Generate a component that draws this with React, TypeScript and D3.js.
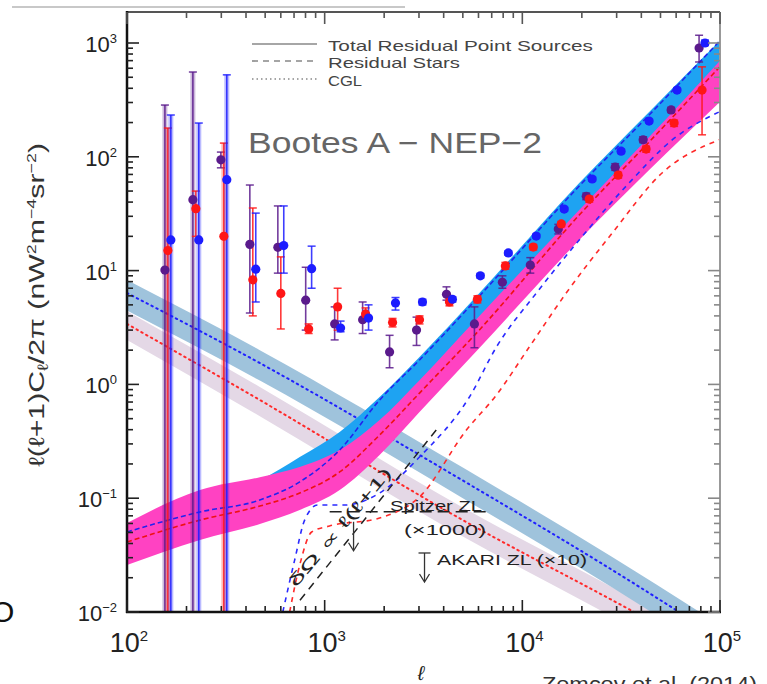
import React from "react";
import * as d3 from "d3";

// ---------- data ----------
const ELL = [161, 223, 309, 433, 600, 830, 1163, 1611, 2205, 3019, 4279, 5925, 8207, 11360, 15740, 21800, 30530, 42290, 58580, 81130];

const PURPLE = [10.1, 42, 94, 17, 16, 5.5, 3.4, 3.7, 1.93, 3.0, 6.2, 3.4, 7.9, 11.2, 23.2, 45, 81, 141, 258, 904];
const PURPLE_LO = [0.0001, 0.0001, 80, 4.24, 9.5, 3.0, 2.46, 2.8, 1.4, 2.2, 5.5, 2.1, 7.0, 9.5, 21, 42, 76, 133, 245, 681];
const PURPLE_HI = [285, 556, 110, 56.5, 37, 10.7, 4.8, 5.3, 2.7, 3.9, 7.2, 4.8, 9.0, 13, 25.5, 48, 87, 150, 272, 1170];

const RED = [15, 35, 20, 8.3, 6.3, 3.07, 4.8, 4.16, 3.5, 3.7, 5.3, 5.6, 11, 16.1, 25.7, 42.5, 69, 117, 198, 386];
const RED_LO = [0.0001, 20, 0.0001, 4.0, 3.07, 2.8, 3.0, 3.6, 3.2, 3.4, 4.9, 5.2, 10.3, 15.2, 24.3, 40, 65, 110, 185, 156];
const RED_HI = [179, 50, 132, 35.5, 13.2, 3.4, 7.0, 4.7, 3.8, 4.0, 5.7, 6.0, 11.8, 17, 27, 45, 73, 124, 210, 617];

const BLUE = [18.6, 18.6, 63, 10.3, 16.6, 10.4, 3.13, 3.83, 5.2, 5.3, 5.6, 9.0, 14.3, 20.1, 34.7, 63.8, 112, 206, 386, 1000];
const BLUE_LO = [0.0001, 0.0001, 0.0001, 5.3, 9.5, 7.0, 2.9, 3.0, 4.5, 5.0, 5.3, 8.6, 13.7, 19.3, 33.3, 61, 107, 198, 370, 950];
const BLUE_HI = [233, 198, 525, 32, 37, 16.4, 3.6, 5.0, 5.8, 5.6, 5.9, 9.4, 14.9, 20.9, 36, 66.5, 117, 214, 402, 1060];

// total residual point source model (bands and centre lines)
const MODEL_ELL = [100, 234, 470, 748, 1191, 1896, 3019, 6064, 19405, 43800, 100000];
const MAGENTA_HI = [0.0605, 0.118, 0.153, 0.188, 0.265, 0.486, 1.09, 3.99, 34.1, 149, 700];
const MAGENTA_LO = [0.0259, 0.043, 0.0593, 0.0787, 0.118, 0.24, 0.571, 2.09, 18.6, 76.6, 305];
const CYAN_HI = [0.0547, 0.1067, 0.1445, 0.23, 0.382, 0.774, 1.74, 6.35, 58.9, 248, 1050];
const CYAN_LO = [0.04, 0.07, 0.1, 0.12, 0.18, 0.34, 0.8, 2.9, 25, 105, 450];
const TOTAL_BLUE = [0.0505, 0.0757, 0.0964, 0.139, 0.265, 0.729, 1.64, 5.98, 55.4, 233, 1050];
const TOTAL_RED = [0.0412, 0.0642, 0.0853, 0.111, 0.17, 0.359, 0.839, 3.01, 30.8, 135, 620];

// residual stars
const STARS_BLUE_ELL = [614, 705, 792, 922, 1263, 1896, 3019, 5395, 7394, 11770, 19405, 34670, 57280, 100000];
const STARS_BLUE = [0.01, 0.0286, 0.0642, 0.0871, 0.0871, 0.111, 0.23, 0.774, 2.13, 6.35, 18.6, 58.9, 140.6, 250];
const STARS_RED_ELL = [665, 748, 859, 1059, 1896, 3019, 5212, 7394, 10840, 16670, 28510, 50930, 100000];
const STARS_RED = [0.01, 0.0259, 0.0505, 0.057, 0.067, 0.1026, 0.397, 0.807, 2.13, 6.35, 21.4, 72.1, 142];

// CGL
const CGL_ELL = [100, 470, 5000, 28500, 100000];
const CGL_BLUE = [6.35, 1.54, 0.143, 0.0234, 0.0059];
const CGL_BLUE_HI = [8.25, 2.0, 0.186, 0.0304, 0.0077];
const CGL_BLUE_LO = [4.45, 1.08, 0.1, 0.0164, 0.0041];
const CGL_RED = [3.4, 0.729, 0.0642, 0.0127, 0.0039];
const CGL_RED_HI = [4.4, 0.95, 0.083, 0.0165, 0.0051];
const CGL_RED_LO = [2.45, 0.525, 0.046, 0.0091, 0.0028];

// annotation lines
const ZL_DIAG_ELL = [750, 3670];
const ZL_DIAG = [0.0127, 0.398];
const SPITZER_ELL = [1060, 6600];
const SPITZER_LEVEL = 0.076;
const SPITZER_ARROW_ELL = 1400;
const AKARI_ELL = 3200;
const AKARI_LEVEL = 0.033;

const X_DECADES = [2, 3, 4, 5];
const Y_DECADES = [-2, -1, 0, 1, 2, 3];
const LEGEND = ["Total Residual Point Sources", "Residual Stars", "CGL"];

const SERIES = [
  { name: "purple", color: "#5a1a8c", v: PURPLE, lo: PURPLE_LO, hi: PURPLE_HI, dodge: 0.966 },
  { name: "red", color: "#ff1616", v: RED, lo: RED_LO, hi: RED_HI, dodge: 1.0 },
  { name: "blue", color: "#1c1cff", v: BLUE, lo: BLUE_LO, hi: BLUE_HI, dodge: 1.035 },
];

const SUP: Record<string, string> = { "-2": "−2", "-1": "−1", "0": "0", "1": "1", "2": "2", "3": "3", "4": "4", "5": "5" };

export default function App() {
  const L = 127, R = 720, B = 612;
  const x = d3.scaleLog().domain([100, 1e5]).range([L, R]);
  const y = d3.scaleLog().domain([0.01, 1000]).range([B, 43]);
  const T = 12;

  const line = (ells: number[], vals: number[]) =>
    d3.line<number>().x((_, i) => x(ells[i])).y((_, i) => y(vals[i])).curve(d3.curveMonotoneX)(vals) || "";
  const area = (ells: number[], lo: number[], hi: number[]) =>
    d3.area<number>().x((_, i) => x(ells[i])).y0((_, i) => y(lo[i])).y1((_, i) => y(hi[i])).curve(d3.curveMonotoneX)(lo) || "";

  const xTicks = x.ticks();
  const yTicks = y.ticks().filter((t) => t <= y.invert(T));
  const isMajor = (t: number) => Math.abs(Math.log10(t) - Math.round(Math.log10(t))) < 1e-6;

  const font = "'Liberation Sans', Arial, Helvetica, sans-serif";

  return (
    <svg width={767} height={684} style={{ position: "absolute", left: 0, top: 0, background: "#fff" }} fontFamily={font}>
      <defs>
        <clipPath id="plot">
          <rect x={L} y={T} width={R - L} height={B - T} />
        </clipPath>
      </defs>
      <rect x={0} y={0} width={767} height={684} fill="#fff" />
      {/* slide remnants */}
      <line x1={12} y1={7} x2={405} y2={7} stroke="#c8c8c8" strokeWidth={2} />
      <text x={-9} y={622} fontSize={30} fill="#111" fontFamily={font}>O</text>
      <text x={542} y={691} fontSize={21} fill="#333" textLength={215} lengthAdjust="spacingAndGlyphs">Zemcov et al. (2014)</text>

      <g clipPath="url(#plot)">
        {/* CGL bands */}
        <path d={area(CGL_ELL, CGL_RED_LO, CGL_RED_HI)} fill="#e4d8e6" />
        <path d={area(CGL_ELL, CGL_BLUE_LO, CGL_BLUE_HI)} fill="#9fc3dc" />
        <path d={line(CGL_ELL, CGL_BLUE)} fill="none" stroke="#2020ff" strokeWidth={2} strokeDasharray="1.5,4" strokeLinecap="round" />
        <path d={line(CGL_ELL, CGL_RED)} fill="none" stroke="#ff2a2a" strokeWidth={2} strokeDasharray="1.5,4" strokeLinecap="round" />

        {/* total residual point source bands */}
        <path d={area(MODEL_ELL, CYAN_LO, CYAN_HI)} fill="#1ea3f2" />
        <path d={area(MODEL_ELL, MAGENTA_LO, MAGENTA_HI)} fill="#ff42c2" />
        <path d={line(MODEL_ELL, TOTAL_BLUE)} fill="none" stroke="#2222ee" strokeWidth={1.6} strokeDasharray="5,3" />
        <path d={line(MODEL_ELL, TOTAL_RED)} fill="none" stroke="#ee1111" strokeWidth={1.6} strokeDasharray="5,3" />

        {/* residual stars */}
        <path d={line(STARS_BLUE_ELL, STARS_BLUE)} fill="none" stroke="#2a2aff" strokeWidth={1.6} strokeDasharray="5,5" />
        <path d={line(STARS_RED_ELL, STARS_RED)} fill="none" stroke="#ff2a2a" strokeWidth={1.6} strokeDasharray="5,5" />

        {/* ZL annotations */}
        <path d={line(ZL_DIAG_ELL, ZL_DIAG)} fill="none" stroke="#222" strokeWidth={1.5} strokeDasharray="8,6" />
        <line x1={x(SPITZER_ELL[0])} x2={x(SPITZER_ELL[1])} y1={y(SPITZER_LEVEL)} y2={y(SPITZER_LEVEL)} stroke="#222" strokeWidth={1.5} strokeDasharray="12,6" />

        {/* error bars */}
        {SERIES.map((s) =>
          s.v.map((v, i) => {
            const cx = x(ELL[i] * s.dodge);
            const yHi = y(s.hi[i]);
            const yLo = y(Math.max(s.lo[i], 1e-4));
            const big = s.lo[i] < 0.01;
            return (
              <g key={s.name + i}>
                {big && <line x1={cx} x2={cx} y1={yHi} y2={yLo} stroke={s.color} strokeOpacity={0.3} strokeWidth={5} />}
                <line x1={cx} x2={cx} y1={yHi} y2={yLo} stroke={s.color} strokeWidth={1.6} strokeOpacity={0.85} />
                <line x1={cx - 4} x2={cx + 4} y1={yHi} y2={yHi} stroke={s.color} strokeWidth={1.5} strokeOpacity={0.85} />
                {!big && <line x1={cx - 4} x2={cx + 4} y1={yLo} y2={yLo} stroke={s.color} strokeWidth={1.5} strokeOpacity={0.85} />}
              </g>
            );
          })
        )}
        {SERIES.map((s) =>
          s.v.map((v, i) => <circle key={"p" + s.name + i} cx={x(ELL[i] * s.dodge)} cy={y(v)} r={4.6} fill={s.color} />)
        )}
      </g>

      {/* annotation text */}
      <text x={390} y={511} fontSize={15} fill="#222" textLength={92} lengthAdjust="spacingAndGlyphs">Spitzer ZL</text>
      <text x={404} y={535} fontSize={15} fill="#222" textLength={82} lengthAdjust="spacingAndGlyphs">(×1000)</text>
      <text x={437} y={565} fontSize={15} fill="#222" textLength={150} lengthAdjust="spacingAndGlyphs">AKARI ZL (×10)</text>
      <g stroke="#333" strokeWidth={1.3} fill="none">
        <line x1={x(AKARI_ELL) - 6} x2={x(AKARI_ELL) + 6} y1={y(AKARI_LEVEL)} y2={y(AKARI_LEVEL)} />
        <line x1={x(AKARI_ELL)} x2={x(AKARI_ELL)} y1={y(AKARI_LEVEL)} y2={y(AKARI_LEVEL) + 28} />
        <path d={`M${x(AKARI_ELL) - 5},${y(AKARI_LEVEL) + 21} L${x(AKARI_ELL)},${y(AKARI_LEVEL) + 29} L${x(AKARI_ELL) + 5},${y(AKARI_LEVEL) + 21}`} />
        <line x1={x(SPITZER_ARROW_ELL)} x2={x(SPITZER_ARROW_ELL)} y1={y(SPITZER_LEVEL) + 10} y2={y(SPITZER_LEVEL) + 38} />
        <path d={`M${x(SPITZER_ARROW_ELL) - 5},${y(SPITZER_LEVEL) + 31} L${x(SPITZER_ARROW_ELL)},${y(SPITZER_LEVEL) + 39} L${x(SPITZER_ARROW_ELL) + 5},${y(SPITZER_LEVEL) + 31}`} />
      </g>
      <text transform={`translate(296,588) rotate(-50)`} fontSize={16} fill="#222" textLength={150} lengthAdjust="spacingAndGlyphs">δΩ ∝ ℓ(ℓ+1)</text>

      {/* frame */}
      <line x1={L} x2={R} y1={T} y2={T} stroke="#555" strokeWidth={2} />
      <line x1={R} x2={R} y1={T} y2={B} stroke="#999" strokeWidth={2} />
      <line x1={L} x2={L} y1={T - 1} y2={B + 1} stroke="#111" strokeWidth={2.5} />
      <line x1={L - 1} x2={R + 1} y1={B} y2={B} stroke="#111" strokeWidth={2.5} />

      {/* ticks */}
      {yTicks.map((t) => {
        const len = isMajor(t) ? 12 : 6;
        return (
          <g key={"yt" + t}>
            <line x1={L} x2={L + len} y1={y(t)} y2={y(t)} stroke="#222" strokeWidth={1.6} />
            <line x1={R} x2={R - len} y1={y(t)} y2={y(t)} stroke="#888" strokeWidth={1.6} />
          </g>
        );
      })}
      {xTicks.map((t) => {
        const len = isMajor(t) ? 12 : 6;
        return (
          <g key={"xt" + t}>
            <line x1={x(t)} x2={x(t)} y1={B} y2={B - len} stroke="#222" strokeWidth={1.6} />
            <line x1={x(t)} x2={x(t)} y1={T} y2={T + len} stroke="#555" strokeWidth={1.6} />
          </g>
        );
      })}

      {/* tick labels */}
      {Y_DECADES.map((d) => (
        <text key={"yl" + d} x={117} y={y(Math.pow(10, d)) + 9} fontSize={22} fill="#222" textAnchor="end">
          10<tspan dy={-9} fontSize={13}>{SUP[String(d)]}</tspan>
        </text>
      ))}
      {X_DECADES.map((d) => (
        <text key={"xl" + d} x={x(Math.pow(10, d)) + 2} y={652} fontSize={27} fill="#222" textAnchor="middle">
          10<tspan dy={-11} fontSize={15}>{SUP[String(d)]}</tspan>
        </text>
      ))}

      {/* axis titles */}
      <text transform="translate(44,305) rotate(-90)" fontSize={22} fill="#333" textAnchor="middle" textLength={324} lengthAdjust="spacingAndGlyphs">
        ℓ(ℓ+1)C<tspan fontSize={15} dy={4}>ℓ</tspan><tspan dy={-4}>/2π  (nW</tspan><tspan fontSize={13} dy={-8}>2</tspan><tspan dy={8}>m</tspan><tspan fontSize={13} dy={-8}>−4</tspan><tspan dy={8}>sr</tspan><tspan fontSize={13} dy={-8}>−2</tspan><tspan dy={8}>)</tspan>
      </text>
      <text x={421} y={680} fontSize={20} fontStyle="italic" fill="#222" textAnchor="middle">ℓ</text>

      {/* title */}
      <text x={248} y={153} fontSize={29} fill="#666" textLength={294} lengthAdjust="spacingAndGlyphs">Bootes A − NEP−2</text>

      {/* legend */}
      {LEGEND.map((lab, i) => {
        const ly = [44, 61, 79][i];
        const dash = ["", "6,5", "1.5,3"][i];
        return (
          <g key={lab}>
            <line x1={252} x2={317} y1={ly} y2={ly} stroke="#888" strokeWidth={1.6} strokeDasharray={dash} />
            <text x={328} y={ly + 7} fontSize={15} fill="#444" textLength={[265, 132, 34][i]} lengthAdjust="spacingAndGlyphs">{lab}</text>
          </g>
        );
      })}
    </svg>
  );
}
